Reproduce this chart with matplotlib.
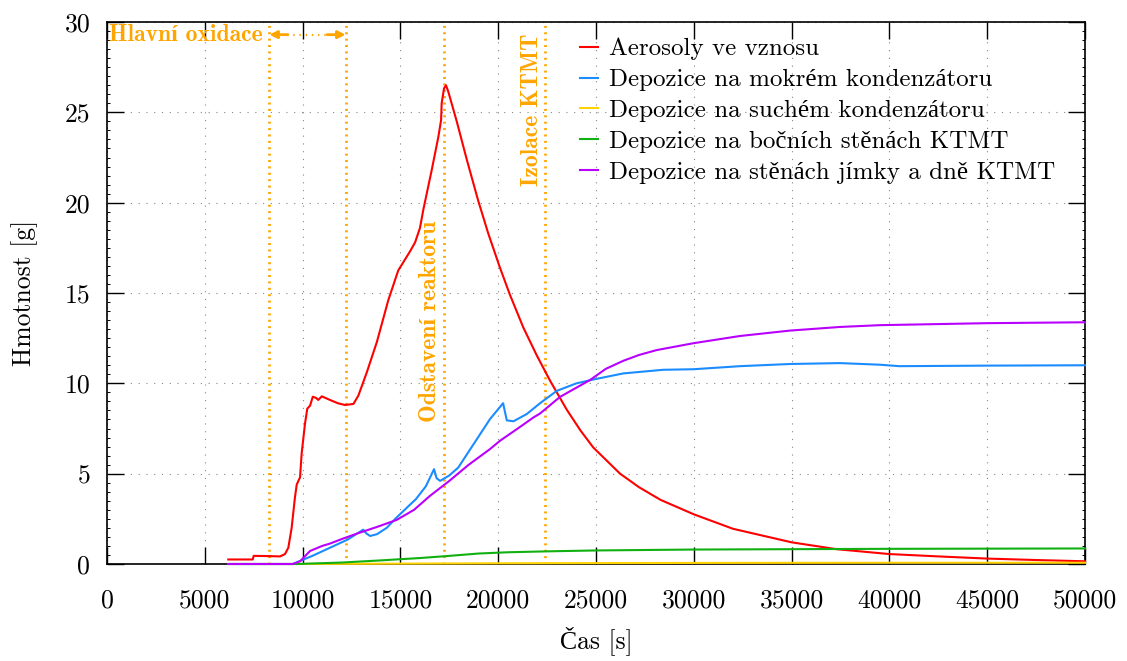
import matplotlib
matplotlib.use("Agg")
import matplotlib.pyplot as plt
from matplotlib.ticker import MultipleLocator

plt.rcParams['font.family'] = ['cmr10', 'Liberation Serif']
plt.rcParams['axes.unicode_minus'] = False

# --- data -------------------------------------------------------------
t_aer = [6200, 7450, 7500, 8200, 8850, 9100, 9270, 9440, 9610, 9700, 9870,
         9950, 10120, 10240, 10380, 10520, 10690, 10800, 10980, 11400, 11800,
         12170, 12600, 12850, 13280, 13800, 14380, 14890, 15490, 15750, 16000,
         16170, 16600, 16940, 17080, 17110, 17230, 17330, 17450, 17880, 18390,
         18980, 19490, 20090, 20600, 21280, 21970, 22650, 23500, 24200, 24860,
         26230, 27200, 28300, 30000, 32000, 35000, 37300, 40000, 42500, 45000,
         47500, 50000]
m_aer = [0.25, 0.25, 0.45, 0.44, 0.42, 0.55, 0.9, 2.0, 3.7, 4.4, 4.8,
         6.1, 7.75, 8.6, 8.76, 9.26, 9.19, 9.08, 9.28, 9.08, 8.9,
         8.8, 8.86, 9.32, 10.6, 12.3, 14.6, 16.25, 17.3, 17.8, 18.6,
         19.6, 21.8, 23.64, 24.57, 25.5, 26.33, 26.5, 26.14, 24.5, 22.4,
         20.1, 18.3, 16.4, 14.9, 13.1, 11.55, 10.15, 8.55, 7.4, 6.45,
         5.0, 4.25, 3.55, 2.75, 1.95, 1.2, 0.82, 0.55, 0.42, 0.3,
         0.22, 0.15]

t_wet = [6200, 9500, 9870, 10500, 11400, 12300, 13100, 13250, 13450, 13800,
         14300, 14800, 15800, 16300, 16720, 16850, 17030, 17500, 17960, 18600,
         19580, 20250, 20440, 20780, 21460, 22140, 22990, 24000, 24860, 26400,
         28440, 29980, 32360, 34920, 37470, 39520, 40500, 45000, 50000]
m_wet = [0.0, 0.0, 0.17, 0.45, 0.9, 1.35, 1.9, 1.7, 1.55, 1.65,
         2.0, 2.57, 3.6, 4.3, 5.25, 4.75, 4.6, 4.9, 5.34, 6.4,
         8.02, 8.9, 7.95, 7.9, 8.3, 8.9, 9.58, 10.0, 10.21, 10.55,
         10.75, 10.78, 10.95, 11.07, 11.12, 11.03, 10.95, 10.98, 11.0]

t_dry = [6200, 9700, 15000, 20000, 30000, 40000, 50000]
m_dry = [0.0, 0.0, 0.02, 0.04, 0.06, 0.07, 0.07]

t_side = [6200, 9700, 12000, 14000, 16000, 17500, 19000, 20500, 22500,
          25000, 30000, 35000, 40000, 50000]
m_side = [0.0, 0.0, 0.08, 0.2, 0.33, 0.45, 0.58, 0.65, 0.7,
          0.75, 0.8, 0.82, 0.84, 0.86]

t_sump = [6200, 9500, 9870, 10380, 11000, 11400, 12000, 12770, 13800, 14810,
          15700, 16510, 17500, 18500, 19580, 20090, 21000, 21800, 22140, 23160,
          24690, 25500, 26400, 27200, 28100, 29980, 32360, 34920, 37470, 39520,
          45000, 50000]
m_sump = [0.0, 0.0, 0.15, 0.72, 1.0, 1.13, 1.38, 1.68, 2.05, 2.44,
          3.0, 3.77, 4.6, 5.5, 6.36, 6.82, 7.5, 8.11, 8.33, 9.25,
          10.18, 10.8, 11.25, 11.57, 11.84, 12.22, 12.62, 12.92, 13.12, 13.22,
          13.33, 13.38]

labels = ["Aerosoly ve vznosu",
          "Depozice na mokrém kondenzátoru",
          "Depozice na suchém kondenzátoru",
          "Depozice na bočních stěnách KTMT",
          "Depozice na stěnách jímky a dně KTMT"]
colors = ["#ff0000", "#1a8cff", "#ffd200", "#10b010", "#b900ff"]

# event times [s]
t_ox_start, t_ox_end = 8300, 12200
t_shutdown = 17230
t_isolation = 22400

x_ticks = list(range(0, 50001, 5000))
y_ticks = list(range(0, 31, 5))

# --- figure -----------------------------------------------------------
W, H = 1127, 661
fig = plt.figure(figsize=(W / 100, H / 100), dpi=100)
ax = fig.add_axes([107 / W, 1 - 564 / H, (1085 - 107) / W, (564 - 22) / H])

orange = "#ffa500"
fs = 18.5

ax.set_xlim(0, 50000)
ax.set_ylim(0, 30)
ax.set_xticks(x_ticks)
ax.set_yticks(y_ticks)
ax.set_xticklabels([str(v) for v in x_ticks])
ax.set_yticklabels([str(v) for v in y_ticks])
ax.yaxis.set_minor_locator(MultipleLocator(0.5))
ax.tick_params(which='major', direction='in', length=12, width=1.0,
               top=True, right=True, labelsize=fs)
ax.tick_params(axis='x', pad=18)
ax.tick_params(axis='y', pad=12)
ax.tick_params(which='minor', direction='in', length=2.5, width=0.7,
               left=True, right=True)
for s in ax.spines.values():
    s.set_linewidth(1.2)

ax.grid(True, which='major', color='#888888', linewidth=0.8,
        linestyle=(0, (1, 6)))
ax.set_axisbelow(True)

# event markers
for tx in (t_ox_start, t_ox_end, t_shutdown, t_isolation):
    ax.axvline(tx, color=orange, linewidth=2.0, linestyle=(0, (0.7, 1.6)),
               dash_capstyle='butt', zorder=1.5)

# series
series = [(t_aer, m_aer), (t_wet, m_wet), (t_dry, m_dry),
          (t_side, m_side), (t_sump, m_sump)]
for (tt, mm), lab, col in zip(series, labels, colors):
    ax.plot(tt, mm, color=col, linewidth=1.5, label=lab, zorder=3,
            clip_on=False)

# oxidation interval
y_arr = 29.3
ax.plot([t_ox_start + 900, t_ox_end - 900], [y_arr, y_arr], color=orange,
        linewidth=1.6, linestyle=(0, (0.6, 2.2)))
ax.annotate('', xy=(t_ox_start, y_arr), xytext=(t_ox_start + 950, y_arr),
            arrowprops=dict(arrowstyle='-|>', color=orange, lw=2.0,
                            mutation_scale=11, shrinkA=0, shrinkB=0))
ax.annotate('', xy=(t_ox_end, y_arr), xytext=(t_ox_end - 950, y_arr),
            arrowprops=dict(arrowstyle='-|>', color=orange, lw=2.0,
                            mutation_scale=11, shrinkA=0, shrinkB=0))

bold = dict(family=['cmb10', 'Liberation Serif'], color=orange, fontsize=17,
            fontweight='bold')
ax.text(t_ox_start - 330, y_arr, "Hlavní oxidace", ha='right', va='center',
        **bold)
ax.text(t_shutdown - 720, 7.85, "Odstavení reaktoru", rotation=90,
        ha='center', va='bottom', **bold)
ax.text(t_isolation - 670, 20.95, "Izolace KTMT", rotation=90,
        ha='center', va='bottom', **bold)

# axis titles
fig.text(25 / W, 1 - 293 / H, "Hmotnost [g]", rotation=90, ha='center',
         va='center', fontsize=fs)
fig.text(596 / W, 1 - 641 / H, "Čas [s]", ha='center', va='center',
         fontsize=fs)

ax.legend(loc='upper left', bbox_to_anchor=((580 - 107) / 978, (564 - 38) / 542),
          frameon=False, fontsize=18, handlelength=0.7, handletextpad=0.45,
          labelspacing=0.33, borderpad=0, borderaxespad=0)

fig.savefig("out.png", dpi=100)
